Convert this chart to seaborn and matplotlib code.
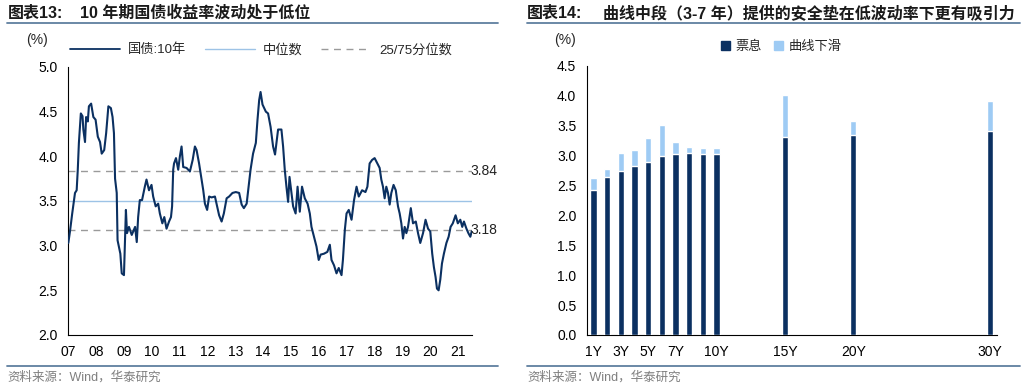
import pandas as pd
import seaborn as sns
import matplotlib.pyplot as plt
from matplotlib.lines import Line2D
from matplotlib.patches import Patch

sns.set_style("white")
plt.rcParams['font.family'] = ['Liberation Sans', 'Noto Sans CJK SC']
plt.rcParams['axes.unicode_minus'] = False

# ---- left chart: 10Y China government bond yield ----
years = [2007.00, 2007.06, 2007.14, 2007.24, 2007.30, 2007.34, 2007.38, 2007.45, 2007.51, 2007.54,
         2007.60, 2007.64, 2007.70, 2007.74, 2007.82, 2007.90, 2007.98, 2008.06, 2008.14, 2008.20,
         2008.29, 2008.36, 2008.44, 2008.53, 2008.59, 2008.64, 2008.68, 2008.74, 2008.77, 2008.83,
         2008.87, 2008.92, 2009.00, 2009.04, 2009.07, 2009.11, 2009.18, 2009.28, 2009.40, 2009.46,
         2009.51, 2009.57, 2009.65, 2009.75, 2009.81, 2009.90, 2009.99, 2010.05, 2010.14, 2010.23,
         2010.29, 2010.38, 2010.45, 2010.53, 2010.62, 2010.69, 2010.73, 2010.77, 2010.80, 2010.87,
         2010.95, 2011.01, 2011.07, 2011.13, 2011.25, 2011.37, 2011.47, 2011.55, 2011.61, 2011.70,
         2011.79, 2011.85, 2011.91, 2011.99, 2012.06, 2012.15, 2012.27, 2012.35, 2012.42, 2012.51,
         2012.59, 2012.69, 2012.78, 2012.90, 2013.02, 2013.14, 2013.23, 2013.31, 2013.41, 2013.48,
         2013.55, 2013.64, 2013.74, 2013.80, 2013.86, 2013.91, 2013.98, 2014.10, 2014.18, 2014.27,
         2014.36, 2014.43, 2014.54, 2014.66, 2014.72, 2014.78, 2014.84, 2014.90, 2014.95, 2015.02,
         2015.08, 2015.17, 2015.24, 2015.32, 2015.40, 2015.50, 2015.60, 2015.68, 2015.74, 2015.83,
         2015.92, 2016.00, 2016.07, 2016.19, 2016.31, 2016.40, 2016.46, 2016.55, 2016.64, 2016.72,
         2016.82, 2016.87, 2016.94, 2017.00, 2017.08, 2017.18, 2017.27, 2017.36, 2017.44, 2017.56,
         2017.68, 2017.75, 2017.83, 2017.92, 2018.01, 2018.11, 2018.19, 2018.25, 2018.31, 2018.37,
         2018.43, 2018.49, 2018.55, 2018.61, 2018.69, 2018.77, 2018.85, 2018.91, 2018.97, 2019.03,
         2019.09, 2019.15, 2019.21, 2019.31, 2019.39, 2019.49, 2019.57, 2019.65, 2019.75, 2019.84,
         2019.93, 2020.01, 2020.08, 2020.14, 2020.20, 2020.25, 2020.31, 2020.37, 2020.43, 2020.50,
         2020.59, 2020.67, 2020.74, 2020.82, 2020.92, 2021.00, 2021.09, 2021.16, 2021.22, 2021.31,
         2021.38, 2021.45, 2021.50]
yields = [3.03, 3.16, 3.36, 3.59, 3.62, 3.85, 4.15, 4.48, 4.45, 4.30,
          4.16, 4.44, 4.39, 4.56, 4.59, 4.44, 4.41, 4.22, 4.16, 4.03,
          4.07, 4.26, 4.56, 4.54, 4.44, 4.26, 3.75, 3.59, 3.06, 2.97,
          2.91, 2.69, 2.67, 3.10, 3.40, 3.14, 3.21, 3.12, 3.21, 3.04,
          3.32, 3.51, 3.51, 3.66, 3.74, 3.62, 3.68, 3.55, 3.44, 3.47,
          3.36, 3.25, 3.32, 3.19, 3.27, 3.32, 3.44, 3.85, 3.92, 3.98,
          3.85, 4.00, 4.11, 3.88, 3.87, 3.83, 3.96, 4.11, 4.07, 3.92,
          3.74, 3.62, 3.47, 3.40, 3.55, 3.54, 3.55, 3.44, 3.34, 3.27,
          3.36, 3.53, 3.55, 3.59, 3.60, 3.59, 3.46, 3.42, 3.47, 3.66,
          3.85, 4.03, 4.15, 4.41, 4.63, 4.72, 4.58, 4.50, 4.48, 4.33,
          4.11, 4.02, 4.30, 4.30, 4.11, 3.85, 3.66, 3.49, 3.77, 3.59,
          3.44, 3.36, 3.66, 3.38, 3.66, 3.53, 3.47, 3.36, 3.21, 3.10,
          2.99, 2.84, 2.90, 2.91, 2.93, 3.01, 2.84, 2.78, 2.69, 2.75,
          2.67, 2.84, 3.18, 3.36, 3.40, 3.29, 3.51, 3.66, 3.55, 3.62,
          3.60, 3.66, 3.92, 3.96, 3.98, 3.92, 3.87, 3.74, 3.66, 3.53,
          3.66, 3.59, 3.46, 3.59, 3.68, 3.62, 3.44, 3.36, 3.25, 3.08,
          3.21, 3.14, 3.21, 3.42, 3.25, 3.27, 3.14, 3.03, 3.14, 3.29,
          3.19, 3.16, 2.91, 2.76, 2.65, 2.52, 2.50, 2.62, 2.80, 2.91,
          3.03, 3.10, 3.21, 3.25, 3.34, 3.25, 3.29, 3.21, 3.27, 3.19,
          3.14, 3.10, 3.16]
median_val = 3.50
p75_val = 3.84
p25_val = 3.18
year_ticks = list(range(2007, 2022))
year_labels = ['07', '08', '09', '10', '11', '12', '13', '14', '15', '16', '17', '18', '19', '20', '21']

# ---- right chart: coupon + roll-down by tenor ----
tenors = [1, 2, 3, 4, 5, 6, 7, 8, 9, 10, 15, 20, 30]
coupon = [2.42, 2.64, 2.75, 2.82, 2.90, 3.00, 3.02, 3.05, 3.02, 3.02, 3.32, 3.35, 3.42]
rolldown = [0.20, 0.13, 0.30, 0.28, 0.40, 0.51, 0.21, 0.09, 0.10, 0.10, 0.69, 0.23, 0.50]
tenor_ticks = [1, 3, 5, 7, 10, 15, 20, 30]
tenor_labels = ['1Y', '3Y', '5Y', '7Y', '10Y', '15Y', '20Y', '30Y']

navy = '#0b3061'
light = '#9ecbf4'
rule_col = '#5f7f9f'

df_yield = pd.DataFrame({'year': years, 'yield': yields})
df_bar = pd.DataFrame({'tenor': tenors, 'coupon': coupon, 'rolldown': rolldown})
df_bar['total'] = df_bar['coupon'] + df_bar['rolldown']

fig = plt.figure(figsize=(10.32, 3.87), dpi=100)
ax1 = fig.add_axes([0.0662, 0.1344, 0.3909, 0.6925])
ax2 = fig.add_axes([0.5685, 0.1344, 0.3973, 0.6951])

# left chart
ax1.axhline(median_val, color='#9dc3e6', lw=1.0, zorder=1)
ax1.axhline(p75_val, color='#9a9a9a', lw=1.0, ls=(0, (5, 4)), zorder=1)
ax1.axhline(p25_val, color='#9a9a9a', lw=1.0, ls=(0, (5, 4)), zorder=1)
sns.lineplot(data=df_yield, x='year', y='yield', ax=ax1, color=navy, lw=1.5, sort=False, zorder=3)
ax1.text(2021.45, p75_val, '3.84', ha='left', va='center', fontsize=10, color='#222222', clip_on=False)
ax1.text(2021.45, p25_val, '3.18', ha='left', va='center', fontsize=10, color='#222222', clip_on=False)
ax1.set_xlim(2007, 2021.5)
ax1.set_ylim(2.0, 5.0)
ax1.set_xticks(year_ticks)
ax1.set_xticklabels(year_labels)
ax1.set_yticks([2.0, 2.5, 3.0, 3.5, 4.0, 4.5, 5.0])
ax1.set_yticklabels(['2.0', '2.5', '3.0', '3.5', '4.0', '4.5', '5.0'])
ax1.set_xlabel('')
ax1.set_ylabel('')

handles1 = [Line2D([], [], color=navy, lw=1.3),
            Line2D([], [], color='#9dc3e6', lw=1.0),
            Line2D([], [], color='#9a9a9a', lw=1.0, ls=(0, (5, 4)))]
fig.legend(handles1, ['国债:10年', '中位数', '25/75分位数'], loc='center', bbox_to_anchor=(0.253, 0.871),
           ncol=3, frameon=False, fontsize=9.5, handlelength=3.8, handletextpad=0.6, columnspacing=1.4)

# right chart: light total bar behind, navy coupon on top
sns.barplot(data=df_bar, x='tenor', y='total', ax=ax2, color=light, native_scale=True, width=0.45,
            saturation=1, errorbar=None, zorder=2)
sns.barplot(data=df_bar, x='tenor', y='coupon', ax=ax2, color=navy, native_scale=True, width=0.45,
            saturation=1, errorbar=None, zorder=3)
ax2.set_xlim(0.5, 30.5)
ax2.set_ylim(0, 4.5)
ax2.set_xticks(tenor_ticks)
ax2.set_xticklabels(tenor_labels)
ax2.set_xticks([x + 0.5 for x in range(0, 31)], minor=True)
ax2.tick_params(axis='x', which='major', length=0, pad=7)
ax2.tick_params(axis='x', which='minor', length=4, width=0.8, color='black', direction='out')
ax2.set_yticks([0, 0.5, 1.0, 1.5, 2.0, 2.5, 3.0, 3.5, 4.0, 4.5])
ax2.set_yticklabels(['0.0', '0.5', '1.0', '1.5', '2.0', '2.5', '3.0', '3.5', '4.0', '4.5'])
ax2.set_xlabel('')
ax2.set_ylabel('')

handles2 = [Patch(color=navy), Patch(color=light)]
fig.legend(handles2, ['票息', '曲线下滑'], loc='center', bbox_to_anchor=(0.757, 0.878), ncol=2,
           frameon=False, fontsize=9.5, handlelength=0.7, handleheight=0.7, handletextpad=0.4,
           columnspacing=0.9)

for ax in (ax1, ax2):
    sns.despine(ax=ax)
    for s in ('left', 'bottom'):
        ax.spines[s].set_color('black')
        ax.spines[s].set_linewidth(0.8)
    ax.tick_params(axis='both', labelsize=10, colors='black')
    ax.tick_params(axis='y', length=4, width=0.8, direction='out')
ax1.tick_params(axis='x', length=4, width=0.8, direction='out')

# titles, rules, source lines
fig.text(8 / 1032, 1 - 13 / 387, '图表13:', fontsize=11.5, fontweight='bold', va='center', color='#1a1a1a')
fig.text(80 / 1032, 1 - 13 / 387, '10 年期国债收益率波动处于低位', fontsize=11.5, fontweight='bold',
         va='center', color='#1a1a1a')
fig.text(527 / 1032, 1 - 13 / 387, '图表14:', fontsize=11.5, fontweight='bold', va='center', color='#1a1a1a')
fig.text(603 / 1032, 1 - 13 / 387, '曲线中段（3-7 年）提供的安全垫在低波动率下更有吸引力', fontsize=11.5,
         fontweight='bold', va='center', color='#1a1a1a')
for x0, x1 in ((7, 498), (527, 1020)):
    fig.add_artist(Line2D([x0 / 1032, x1 / 1032], [1 - 23 / 387, 1 - 23 / 387], color=rule_col, lw=1.3))
    fig.add_artist(Line2D([x0 / 1032, x1 / 1032], [1 - 365.5 / 387, 1 - 365.5 / 387], color=rule_col, lw=1.3))
fig.text(7 / 1032, 1 - 377 / 387, '资料来源：Wind，华泰研究', fontsize=9, va='center', color='#7f7f7f')
fig.text(527 / 1032, 1 - 377 / 387, '资料来源：Wind，华泰研究', fontsize=9, va='center', color='#7f7f7f')
fig.text(37 / 1032, 1 - 40 / 387, '(%)', fontsize=10, ha='center', va='center')
fig.text(565 / 1032, 1 - 40 / 387, '(%)', fontsize=10, ha='center', va='center')

fig.savefig('out.png', dpi=100)
